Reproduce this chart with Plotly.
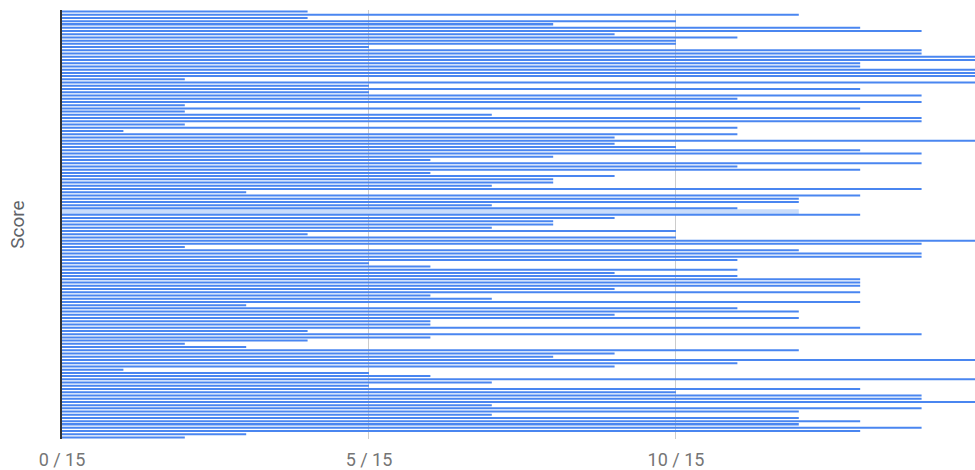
import plotly.graph_objects as go

# Score of each respondent (out of 15), top to bottom
scores = [4, 12, 4, 10, 8, 13, 14, 9, 11, 10, 10, 5, 14, 14, 15, 15, 13, 13, 15, 15,
          15, 2, 15, 5, 13, 5, 14, 11, 14, 2, 13, 2, 7, 14, 14, 2, 11, 1, 11, 9,
          15, 9, 10, 13, 14, 8, 6, 14, 11, 13, 6, 9, 8, 8, 7, 14, 3, 13, 12, 12,
          7, 11, 0, 13, 9, 8, 8, 7, 10, 4, 10, 15, 14, 2, 12, 14, 14, 11, 5, 6,
          11, 9, 11, 13, 13, 13, 9, 13, 6, 7, 13, 3, 11, 12, 9, 12, 6, 6, 13, 4,
          14, 6, 4, 2, 3, 12, 9, 8, 15, 11, 9, 1, 5, 6, 15, 7, 5, 13, 10, 14,
          14, 15, 7, 14, 12, 7, 12, 13, 12, 14, 13, 3, 2]
# highlighted (hovered) row
highlight_row = 63
highlight_value = 12

rows = [str(i + 1) for i in range(len(scores))]
tick_vals = [0, 5, 10]
tick_text = ["0 / 15", "5 / 15", "10 / 15"]

fig = go.Figure()
fig.add_trace(go.Bar(
    y=[str(highlight_row)], x=[highlight_value], orientation="h",
    marker=dict(color="#c9dcfb", line=dict(width=0)), width=[1.5],
    hoverinfo="skip", showlegend=False,
))
fig.add_trace(go.Bar(
    y=rows, x=scores, orientation="h",
    marker=dict(color="#4a86f0", line=dict(width=0)),
    width=0.62, showlegend=False,
))

fig.update_layout(
    width=975, height=470,
    margin=dict(l=62, r=0, t=10, b=29),
    plot_bgcolor="white", paper_bgcolor="white",
    barmode="overlay",
    font=dict(family="Roboto, Arial, sans-serif", color="#5f6368"),
    xaxis=dict(
        range=[0, 14.87], tickvals=tick_vals, ticktext=tick_text,
        showgrid=True, gridcolor="#cccccc", gridwidth=1,
        zeroline=False, showline=False,
        ticks="outside", ticklen=4, tickcolor="rgba(0,0,0,0)",
        tickfont=dict(size=18, color="#757575"),
    ),
    yaxis=dict(
        type="category", categoryorder="array", categoryarray=rows,
        range=[len(rows) - 0.5, -0.5],
        showticklabels=False, showgrid=False, zeroline=False,
        showline=True, linecolor="#333333", linewidth=2,
        title=dict(text="Score", font=dict(size=19, color="#5f6368"), standoff=30),
    ),
)

fig.write_html(
    "out.html",
    config={"displayModeBar": False},
    post_script="document.body.style.margin='0';document.body.style.overflow='hidden';",
)
